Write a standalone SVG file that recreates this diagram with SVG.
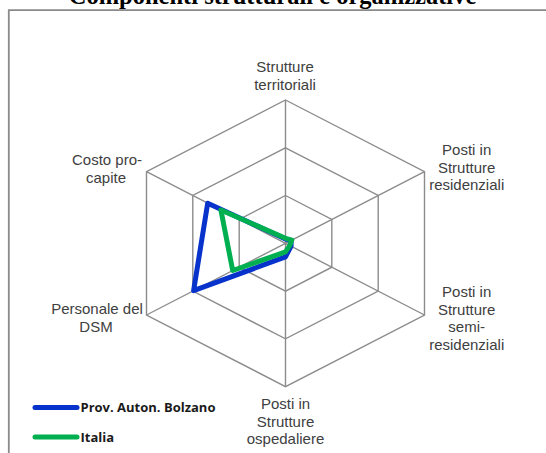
<svg xmlns="http://www.w3.org/2000/svg" width="546" height="453" viewBox="0 0 546 453">
<style>
.title{font-family:"Liberation Serif","Times New Roman",serif;font-weight:bold;font-size:24.5px;fill:#000}
.lbl{font-family:"Liberation Sans",Arial,sans-serif;font-size:15px;fill:#404040;text-anchor:middle}
.leg{font-family:"Open Sans","Liberation Sans",sans-serif;font-size:13px;font-weight:bold;fill:#1a1a1a}
.grid{fill:none;stroke:#8c8c8c;stroke-width:1.4}
.frame{fill:none;stroke:#8a8a8a;stroke-width:1.8}
.ser{fill:none;stroke-width:5;stroke-linejoin:round}
.bz{stroke:#0832cc}
.it{stroke:#00b050}
.legline{stroke-width:5;stroke-linecap:round}
</style>
<rect width="546" height="453" fill="#fff"/>
<text class="title" x="272.5" y="4" text-anchor="middle">Componenti strutturali e organizzative</text>
<path class="frame" d="M8.8,460 V10.2 H560"/>
<g id="connectors">
<polygon class="grid" points="285.5,100 424.5,171.6 424.5,315 285.5,386.6 146.5,315 146.5,171.6"/>
<polygon class="grid" points="285.5,147.8 378.2,195.5 378.2,291.1 285.5,338.8 192.8,291.1 192.8,195.5"/>
<polygon class="grid" points="285.5,195.5 331.8,219.4 331.8,267.2 285.5,291.1 239.2,267.2 239.2,219.4"/>
<path class="grid" d="M285.5,243.3 L285.5,100 M285.5,243.3 L424.5,171.6 M285.5,243.3 L424.5,315 M285.5,243.3 L285.5,386.6 M285.5,243.3 L146.5,315 M285.5,243.3 L146.5,171.6"/>
</g>
<g id="series-bolzano">
<polygon class="ser bz" points="285.5,239 291.1,240.4 291.1,246.2 285.5,256.9 193.6,290.6 207.7,203.2"/>
</g>
<g id="series-italia">
<polygon class="ser it" points="285.5,238.3 291.8,240.1 289.7,245.5 285.5,251.9 232.7,270.5 220.9,210"/>
</g>
<g id="axis-territoriali">
<text class="lbl" x="285" y="72">Strutture</text>
<text class="lbl" x="285" y="89.5">territoriali</text>
</g>
<g id="axis-residenziali">
<text class="lbl" x="466.7" y="155">Posti in</text>
<text class="lbl" x="466.7" y="172.5">Strutture</text>
<text class="lbl" x="466.7" y="190">residenziali</text>
</g>
<g id="axis-semiresidenziali">
<text class="lbl" x="466.7" y="297">Posti in</text>
<text class="lbl" x="466.7" y="314.5">Strutture</text>
<text class="lbl" x="466.7" y="332">semi-</text>
<text class="lbl" x="466.7" y="349.5">residenziali</text>
</g>
<g id="axis-ospedaliere">
<text class="lbl" x="285.5" y="409">Posti in</text>
<text class="lbl" x="285.5" y="426.5">Strutture</text>
<text class="lbl" x="285.5" y="444">ospedaliere</text>
</g>
<g id="axis-personale">
<text class="lbl" x="97" y="314">Personale del</text>
<text class="lbl" x="96" y="331.5">DSM</text>
</g>
<g id="axis-costo">
<text class="lbl" x="107" y="165">Costo pro-</text>
<text class="lbl" x="106" y="182.5">capite</text>
</g>
<g id="legend">
<line class="legline bz" x1="35" y1="407.6" x2="77" y2="407.6"/>
<text class="leg" x="80.5" y="412">Prov. Auton. Bolzano</text>
<line class="legline it" x1="35" y1="436.9" x2="77" y2="436.9"/>
<text class="leg" x="80.5" y="441.5">Italia</text>
</g>
</svg>
